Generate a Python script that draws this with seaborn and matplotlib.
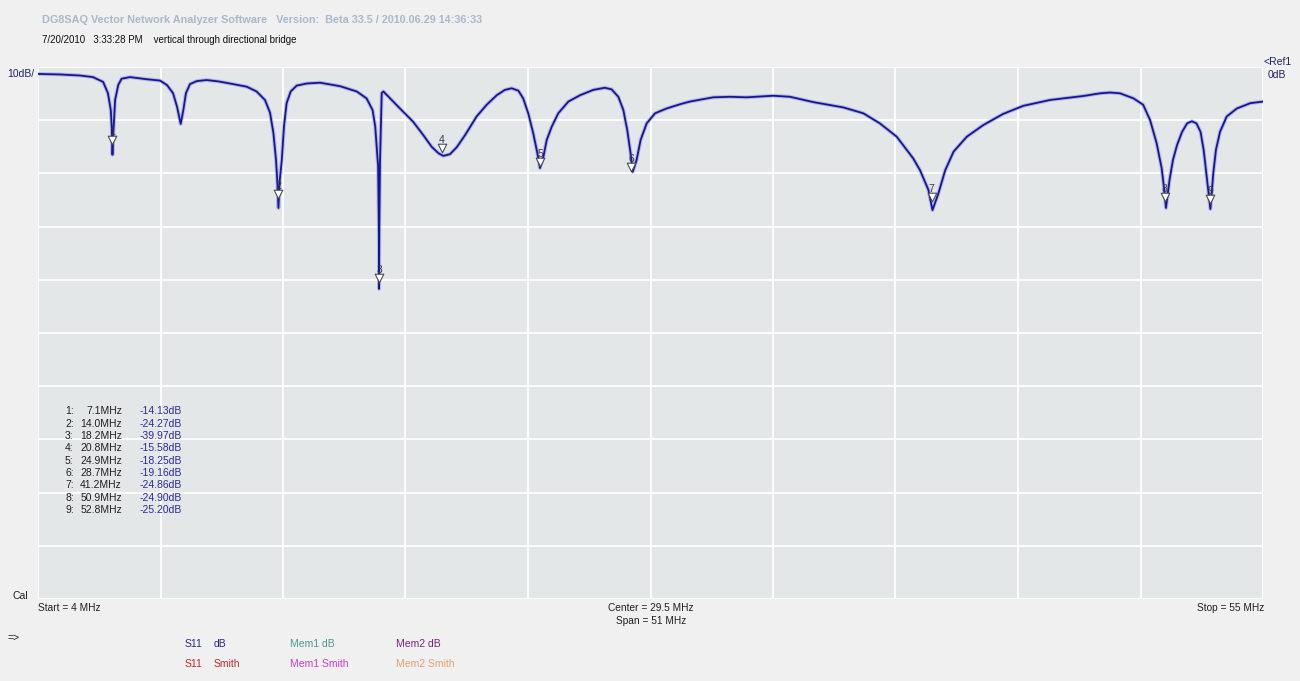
import numpy as np
import pandas as pd
import matplotlib
matplotlib.use("Agg")
import matplotlib.pyplot as plt
import seaborn as sns

# S11 trace: frequency in MHz and return loss in dB
freq_mhz = [
    4.00, 4.90, 5.75, 6.29, 6.71, 6.91, 7.03, 7.07, 7.10, 7.13,
    7.21, 7.34, 7.48, 7.83, 8.53, 9.08, 9.37, 9.62, 9.79, 9.94,
    10.05, 10.16, 10.33, 10.61, 11.02, 11.50, 11.99, 12.69, 13.10, 13.45,
    13.66, 13.80, 13.91, 13.97, 14.01, 14.06, 14.15, 14.24, 14.35, 14.52,
    14.77, 15.19, 15.74, 16.57, 17.27, 17.68, 17.93, 18.04, 18.13, 18.16,
    18.19, 18.20, 18.21, 18.24, 18.31, 18.38, 19.07, 19.62, 20.04, 20.39,
    20.67, 20.87, 21.15, 21.43, 21.78, 22.26, 22.68, 23.10, 23.44, 23.72,
    24.00, 24.20, 24.41, 24.62, 24.79, 24.90, 25.04, 25.18, 25.39, 25.66,
    26.08, 26.57, 27.12, 27.60, 27.88, 28.16, 28.37, 28.53, 28.67, 28.76,
    28.92, 29.09, 29.34, 29.69, 30.17, 30.73, 31.14, 32.11, 32.81, 33.50,
    34.61, 35.31, 36.28, 37.53, 38.36, 39.05, 39.75, 40.44, 40.72, 41.07,
    41.24, 41.49, 41.77, 42.12, 42.67, 43.36, 44.19, 45.02, 46.13, 47.52,
    48.21, 48.63, 49.05, 49.61, 50.01, 50.30, 50.57, 50.78, 50.89, 50.96,
    51.11, 51.25, 51.42, 51.63, 51.84, 52.04, 52.23, 52.40, 52.53, 52.64,
    52.81, 52.93, 53.04, 53.21, 53.49, 53.91, 54.47, 55.00,
]
s11_db = [
    -1.3, -1.4, -1.6, -1.9, -2.8, -4.9, -8.1, -11.3, -16.5, -13.0,
    -6.2, -3.4, -2.2, -1.9, -2.3, -2.55, -3.4, -4.9, -7.5, -10.7,
    -8.1, -4.9, -3.2, -2.65, -2.45, -2.7, -3.1, -3.7, -4.6, -6.2,
    -8.6, -12.4, -17.5, -22.0, -26.5, -21.5, -17.5, -11.2, -6.8, -4.6,
    -3.5, -3.1, -2.95, -3.6, -4.6, -5.9, -8.1, -11.2, -16.9, -18.5,
    -30.0, -41.7, -30.0, -17.5, -4.9, -4.6, -7.8, -10.3, -12.8, -15.0,
    -16.2, -16.7, -16.4, -15.1, -12.8, -9.3, -7.1, -5.3, -4.3, -4.0,
    -4.45, -5.9, -8.7, -12.5, -16.2, -19.0, -16.9, -13.7, -11.2, -8.7,
    -6.5, -5.3, -4.3, -3.9, -4.2, -5.6, -8.1, -11.8, -16.2, -19.7,
    -17.5, -13.7, -10.6, -8.7, -7.8, -7.0, -6.5, -5.7, -5.6, -5.7,
    -5.4, -5.6, -6.6, -7.6, -8.7, -10.6, -13.1, -17.2, -19.4, -23.1,
    -26.9, -23.7, -19.4, -15.9, -13.1, -10.9, -8.8, -7.3, -6.2, -5.45,
    -4.95, -4.8, -4.95, -5.9, -7.1, -10.0, -14.3, -19.0, -23.1, -26.5,
    -21.2, -17.5, -14.7, -12.2, -10.6, -10.2, -10.6, -12.2, -15.6, -20.0,
    -26.7, -20.0, -15.6, -12.2, -9.3, -7.8, -6.8, -6.5,
]

# Marker readouts
marker_ids = [1, 2, 3, 4, 5, 6, 7, 8, 9]
marker_mhz = [7.1, 14.0, 18.2, 20.8, 24.9, 28.7, 41.2, 50.9, 52.8]
marker_db = [-14.13, -24.27, -39.97, -15.58, -18.25, -19.16, -24.86, -24.90, -25.20]

start_mhz, stop_mhz = 4.0, 55.0
ref_db, db_per_div, n_div = 0.0, 10.0, 10

W, H = 1300, 681
sns.set_theme(style="white")
plt.rcParams["font.family"] = ["Liberation Sans Narrow", "Liberation Sans", "DejaVu Sans"]

fig = plt.figure(figsize=(W / 100, H / 100), dpi=100, facecolor="#f0f0f0")
ax = fig.add_axes([38 / W, 1 - 599 / H, 1225 / W, 532 / H])
ax.set_facecolor("#e3e7e8")

trace = pd.DataFrame({"MHz": freq_mhz, "dB": s11_db})
# soft halo under the trace, then the trace itself
sns.lineplot(data=trace, x="MHz", y="dB", ax=ax, sort=False, estimator=None,
             color="#7d82c8", linewidth=2.8, alpha=0.45)
sns.lineplot(data=trace, x="MHz", y="dB", ax=ax, sort=False, estimator=None,
             color="#15159a", linewidth=1.3)

# marker triangles with their numbers
mk = pd.DataFrame({"MHz": marker_mhz, "dB": marker_db})
sns.scatterplot(data=mk, x="MHz", y=mk["dB"] + 0.4, ax=ax, marker="v", s=38,
                facecolor="white", edgecolor="#4a4a5a", linewidth=0.8, zorder=5)
for i, f, d in zip(marker_ids, marker_mhz, marker_db):
    ax.text(f, d + 1.9, str(i), ha="center", va="center", fontsize=7.5,
            color="#3a3a4a", zorder=6)

ax.set_xlim(start_mhz, stop_mhz)
ax.set_ylim(ref_db - n_div * db_per_div, ref_db)
ax.set_xticks(np.linspace(start_mhz, stop_mhz, n_div + 1))
ax.set_yticks(np.arange(ref_db - n_div * db_per_div, ref_db + 1, db_per_div))
ax.grid(True, color="white", linewidth=1.3)
ax.tick_params(length=0, labelbottom=False, labelleft=False)
ax.set_xlabel("")
ax.set_ylabel("")
for s in ax.spines.values():
    s.set_visible(False)


def px(x, y):
    return x / W, 1 - y / H


# header lines
fig.text(*px(42, 20), "DG8SAQ Vector Network Analyzer Software   Version:  Beta 33.5 / 2010.06.29 14:36:33",
         fontsize=7.8, fontweight="bold", color="#a9b8cb", va="center", family=["Liberation Sans", "DejaVu Sans"])
fig.text(*px(42, 40), "7/20/2010   3:33:28 PM    vertical through directional bridge",
         fontsize=7, color="#101010", va="center")

fig.text(*px(7, 74), "10dB/", fontsize=7.5, color="#20206a", va="center")
fig.text(*px(1264, 62), "<Ref1", fontsize=7.5, color="#20206a", va="center")
fig.text(*px(1268, 75), "0dB", fontsize=7.5, color="#20206a", va="center")

# marker table
for k, (i, f, d) in enumerate(zip(marker_ids, marker_mhz, marker_db)):
    y = 411.5 + k * 12.3
    fig.text(*px(65, y), f"{i}:", fontsize=7.5, color="#202020", va="center")
    fig.text(*px(122, y), f"{f:.1f}MHz", fontsize=7.5, color="#202020", va="center", ha="right")
    fig.text(*px(140, y), f"{d:.2f}dB", fontsize=7.5, color="#2a2a9a", va="center")

# frequency axis annotations
fig.text(*px(12, 596), "Cal", fontsize=7.5, color="#202020", va="center")
fig.text(*px(38, 608), "Start = 4 MHz", fontsize=7.3, color="#202020", va="center")
fig.text(*px(651, 608), "Center = 29.5 MHz", fontsize=7.3, color="#202020", va="center", ha="center")
fig.text(*px(651, 621), "Span = 51 MHz", fontsize=7.3, color="#202020", va="center", ha="center")
fig.text(*px(1264, 608), "Stop = 55 MHz", fontsize=7.3, color="#202020", va="center", ha="right")

# trace selector
fig.text(*px(8, 638), "=>", fontsize=7.5, color="#202020", va="center")
legend_rows = [
    [(185, "S11", "#28288c"), (214, "dB", "#28288c"), (290, "Mem1 dB", "#4a9a8e"), (396, "Mem2 dB", "#7a207a")],
    [(185, "S11", "#c02828"), (214, "Smith", "#c02828"), (290, "Mem1 Smith", "#c83cc8"), (396, "Mem2 Smith", "#e0a070")],
]
for row_y, row in zip([644, 664], legend_rows):
    for x, txt, col in row:
        fig.text(*px(x, row_y), txt, fontsize=7.5, color=col, va="center")

fig.savefig("out.png", dpi=100, facecolor=fig.get_facecolor())
